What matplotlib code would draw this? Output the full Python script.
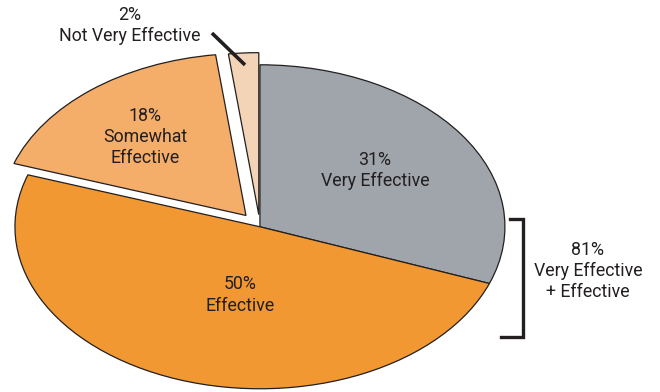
import matplotlib.pyplot as plt

# 数据
labels = ['Very Effective', 'Effective', 'Somewhat\nEffective', 'Not Very Effective']
values = [31, 50, 18, 2]
colors = ['#9fa5aa', '#f29832', '#f5ae6a', '#f3d4b6']
explode = [0, 0, 0.09, 0.075]
combined = values[0] + values[1]

plt.rcParams['font.family'] = ['Roboto', 'DejaVu Sans']
txt_color = '#231f20'

fig = plt.figure(figsize=(6.6, 3.92), dpi=100)
ax = fig.add_axes([0, 0, 1, 1])

wedges, _ = ax.pie(values, colors=colors, explode=explode, startangle=90,
                   counterclock=False,
                   wedgeprops=dict(edgecolor=txt_color, linewidth=0.9))

# 压扁成椭圆
ax.set_aspect('auto')
ax.set_xlim(-1.061, 1.633)
ax.set_ylim(-1.02, 1.40)
ax.axis('off')

# 标签
pos = [(0.469, 0.345), (-0.082, -0.421), (-0.469, 0.554), (-0.530, 1.245)]
for v, lab, (x, y) in zip(values, labels, pos):
    ax.text(x, y, f'{v}%\n{lab}', ha='center', va='center', fontsize=12.8,
            color=txt_color, linespacing=1.22)

# 2% 的引线
ax.plot([-0.196, -0.061], [1.196, 0.999], color=txt_color, lw=2.6,
        solid_capstyle='butt')

# 右侧括号
ax.plot([1.021, 1.074, 1.074, 0.984], [0.048, 0.048, -0.680, -0.680],
        color=txt_color, lw=2.4, solid_joinstyle='miter', clip_on=False)
ax.text(1.339, -0.273, f'{combined}%\nVery Effective\n+ Effective',
        ha='center', va='center', fontsize=12.8, color=txt_color, linespacing=1.22)

plt.savefig('out.png', dpi=100)
